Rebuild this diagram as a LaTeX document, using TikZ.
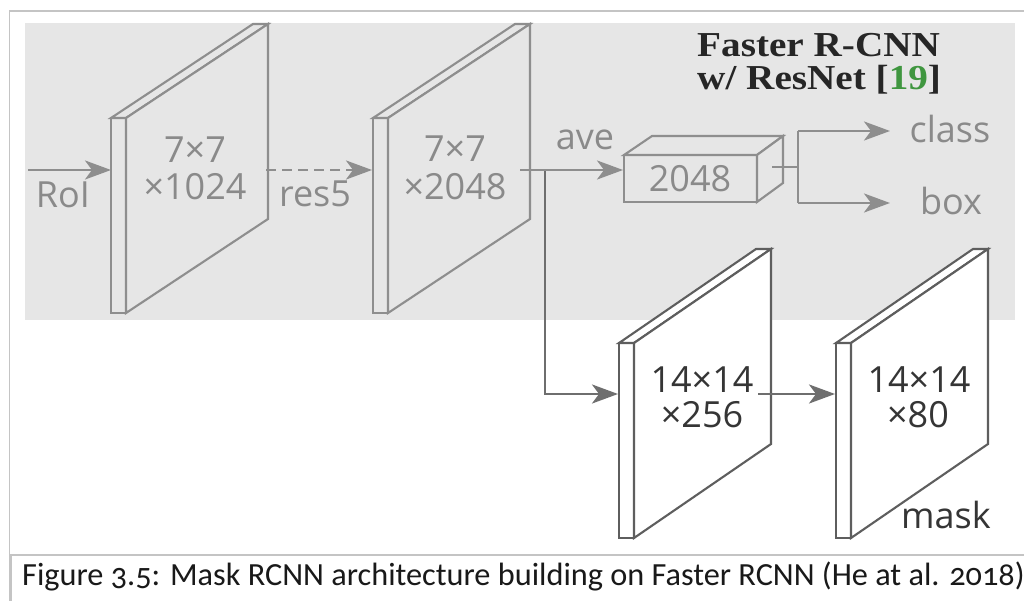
\documentclass[tikz,border=0pt]{standalone}
\usepackage{fontspec}
\setmainfont{Liberation Serif}
\newfontfamily\labf{Open Sans}
\newfontfamily\capf[Numbers=OldStyle]{Carlito}
\usetikzlibrary{arrows.meta}
\definecolor{bggray}{HTML}{E6E6E6}
\definecolor{lgray}{HTML}{8E8E8E}
\definecolor{dgray}{HTML}{5E5E5E}
\definecolor{ltext}{HTML}{8A8A8A}
\definecolor{dtext}{HTML}{353535}
\definecolor{refgreen}{HTML}{3F963F}
\definecolor{framegray}{HTML}{C4C4C4}
\newcommand\drawplate[5]{%
  \filldraw[platestyle, draw=#5, fill=#4] (#1,#2) rectangle ({#1+15},{#2+195});
  \filldraw[platestyle, draw=#5, fill=#4] (#1,#2) -- ({#1+#3-15},{#2-94}) -- ({#1+#3},{#2-94}) -- ({#1+15},#2) -- cycle;
  \filldraw[platestyle, draw=#5, fill=#4] ({#1+15},#2) -- ({#1+#3},{#2-94}) -- ({#1+#3},{#2+101}) -- ({#1+15},{#2+195}) -- cycle;
}
\tikzset{
  platestyle/.style={line width=2.1pt, line join=miter},
  lab/.style={font=\labf\fontsize{36}{40}\selectfont, inner sep=0pt, anchor=base, text=ltext},
  dlab/.style={lab, text=dtext},
  tip/.style={-{Stealth[length=26pt,width=19pt,inset=7pt]}},
  conn/.style={draw=lgray, line width=2.9pt, tip},
  dconn/.style={draw=dgray!90, line width=2.9pt, tip},
  plainline/.style={draw=lgray, line width=2.9pt},
  frameline/.style={draw=framegray, line width=1.6pt},
  titlestyle/.style={inner sep=0pt, anchor=base west, font=\bfseries\fontsize{35}{38}\selectfont, text=black!85},
}
\begin{document}
\begin{tikzpicture}[x=1pt,y=-1pt]
\useasboundingbox (0,0) rectangle (1024,601);
\fill[white] (0,0) rectangle (1024,601);
% frames
\draw[frameline] (9.5,601) -- (9.5,11) -- (1024,11);
\draw[frameline] (9.5,555) -- (1024,555);
\draw[frameline] (11,555) -- (11,601);
% gray area
\fill[bggray] (25,23) rectangle (1015,320);

% plates
\drawplate{111}{118}{157}{bggray}{lgray}
\drawplate{373}{118}{157}{bggray}{lgray}

% 2048 box
\filldraw[platestyle, draw=lgray, fill=bggray] (624,155) rectangle (757,202);
\filldraw[platestyle, draw=lgray, fill=bggray] (624,155) -- (652,136) -- (783,136) -- (757,155) -- cycle;
\filldraw[platestyle, draw=lgray, fill=bggray] (757,155) -- (783,136) -- (783,183) -- (757,202) -- cycle;

% coordinates
\coordinate (roiS) at (28,170);
\coordinate (p1in) at (111,170);
\coordinate (p1out) at (266,170);
\coordinate (p2in) at (372,170);
\coordinate (p2out) at (520,170);
\coordinate (br) at (545,170);
\coordinate (boxin) at (623,170);
\coordinate (boxout) at (772,167);
\coordinate (split) at (798,167);
\coordinate (clsE) at (890,131);
\coordinate (boxE) at (890,203);
\coordinate (p3in) at (618,394);
\coordinate (p3out) at (758,394);
\coordinate (p4in) at (835,394);

% branch to mask head (drawn before lower plates)
\draw[dconn] (br) |- (p3in);

\drawplate{619}{343}{152}{white}{dgray}
\drawplate{836}{343}{152}{white}{dgray}

% connectors
\draw[conn] (roiS) -- (p1in);
\draw[conn, dash pattern=on 10pt off 6pt] (p1out) -- (p2in);
\draw[conn] (p2out) -- (boxin);
\draw[plainline] (boxout) -- (split);
\draw[conn] (split |- clsE) -- (clsE);
\draw[conn] (split |- boxE) -- (boxE);
\draw[plainline] (split |- clsE) -- (split |- boxE);
\draw[dconn] (p3out) -- (p4in);

% labels
\node[lab] (roi) at (63,208) {RoI};
\node[lab] (res5) at (315,207) {res5};
\node[lab] (ave) at (585,150) {ave};
\node[lab] (p1a) at (195,163) {7×7};
\node[lab] (p1b) at (195,200) {×1024};
\node[lab] (p2a) at (455,162) {7×7};
\node[lab] (p2b) at (455,200) {×2048};
\node[lab] (fc) at (690,192) {2048};
\node[lab] (cls) at (950,143) {class};
\node[lab] (bx) at (951,215) {box};
\node[dlab] (p3a) at (702,392) {14×14};
\node[dlab] (p3b) at (702,427) {×256};
\node[dlab] (p4a) at (919,392) {14×14};
\node[dlab] (p4b) at (918,427) {×80};
\node[dlab] (mask) at (946,528) {mask};

% title
\node[titlestyle] (t1) at (697,57) {\scalebox{1.12}[1]{Faster R-CNN}};
\node[titlestyle] (t2) at (697,90) {\scalebox{1.12}[1]{w/ ResNet [{\color{refgreen}19}]}};

% caption
\node[inner sep=0pt, anchor=base west, font=\capf\fontsize{32.3}{36}\selectfont, text=black!90] (cap) at (22,585) {Figure 3.5: Mask RCNN architecture building on Faster RCNN (He at al. 2018)};
\end{tikzpicture}
\end{document}
